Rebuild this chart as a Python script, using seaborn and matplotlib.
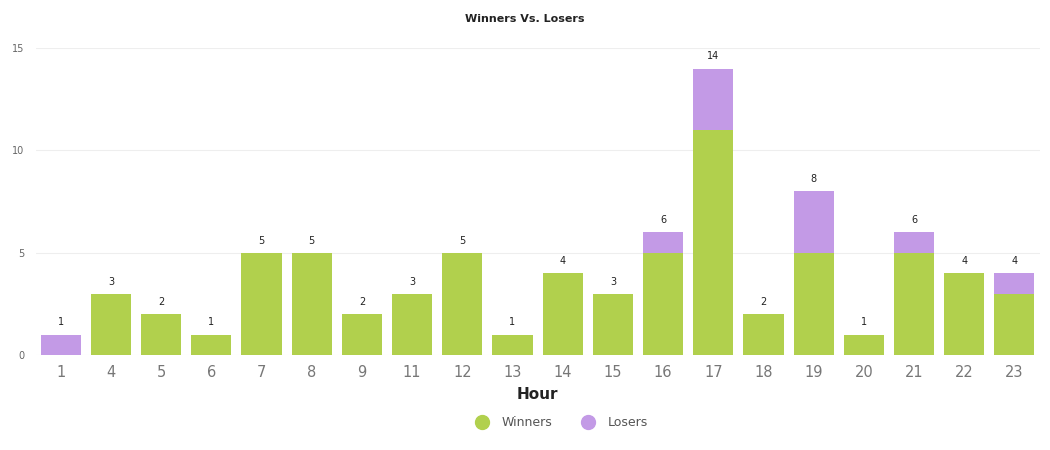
import matplotlib
matplotlib.use("Agg")
import matplotlib.pyplot as plt
from matplotlib.lines import Line2D
import seaborn as sns
import pandas as pd

hours = ["1", "4", "5", "6", "7", "8", "9", "11", "12", "13", "14", "15", "16", "17", "18", "19", "20", "21", "22", "23"]
winners = [0, 3, 2, 1, 5, 5, 2, 3, 5, 1, 4, 3, 5, 11, 2, 5, 1, 5, 4, 3]
losers = [1, 0, 0, 0, 0, 0, 0, 0, 0, 0, 0, 0, 1, 3, 0, 3, 0, 1, 0, 1]
yticks = [0, 5, 10, 15]

GREEN = "#b1d04d"
PURPLE = "#c39ae6"

totals = [w + l for w, l in zip(winners, losers)]
df = pd.DataFrame({"Hour": hours, "Winners": winners, "Losers": losers, "Total": totals})

sns.set_theme(style="white")
plt.rcParams["font.family"] = ["DejaVu Sans"]

fig = plt.figure(figsize=(10.5, 4.5), dpi=100)
ax = fig.add_axes([0.034, 0.211, 0.956, 0.682])

sns.barplot(data=df, x="Hour", y="Total", order=hours, color=PURPLE, width=0.8,
            saturation=1, ax=ax, edgecolor="none", zorder=2)
sns.barplot(data=df, x="Hour", y="Winners", order=hours, color=GREEN, width=0.8,
            saturation=1, ax=ax, edgecolor="none", zorder=3)

for i, t in enumerate(totals):
    ax.text(i, t + 0.35, str(t), ha="center", va="bottom", fontsize=7, color="#222222")

ax.set_ylim(0, 15)
ax.set_xlim(-0.5, len(hours) - 0.5)
ax.set_yticks(yticks)
ax.tick_params(axis="y", labelsize=7, labelcolor="#666666", length=0, pad=8)
ax.tick_params(axis="x", labelsize=10.5, labelcolor="#777777", length=0, pad=7)
ax.grid(axis="y", color="#eeeeee", linewidth=0.8, zorder=0)
ax.set_axisbelow(True)
for s in ax.spines.values():
    s.set_visible(False)

ax.set_xlabel("Hour", fontsize=11, fontweight="bold", color="#222222", labelpad=5)
ax.set_ylabel("")
fig.suptitle("Winners Vs. Losers", x=0.5, y=0.97, fontsize=8, fontweight="bold", color="#222222")

handles = [Line2D([], [], marker="o", linestyle="none", markersize=10, markerfacecolor=GREEN, markeredgecolor=GREEN),
           Line2D([], [], marker="o", linestyle="none", markersize=10, markerfacecolor=PURPLE, markeredgecolor=PURPLE)]
fig.legend(handles, ["Winners", "Losers"], loc="center", bbox_to_anchor=(0.532, 0.06), ncol=2,
           frameon=False, fontsize=9, labelcolor="#555555", handletextpad=0.6, columnspacing=1.8)

fig.savefig("out.png", dpi=100, facecolor="white")
